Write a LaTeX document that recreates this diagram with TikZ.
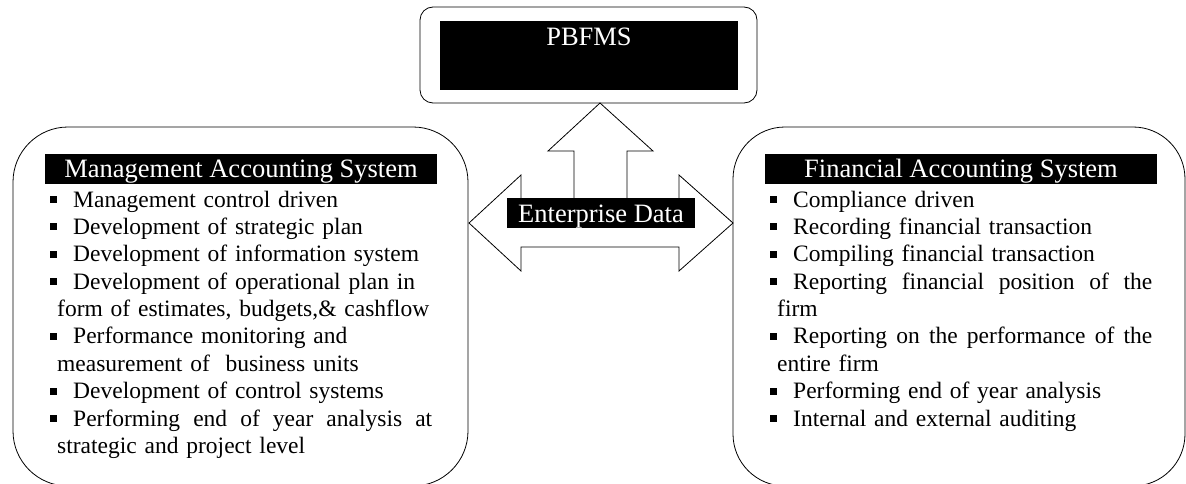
\documentclass[tikz,border=0pt]{standalone}
\usepackage{fontspec}
\setmainfont{Liberation Serif}
\newcommand\bul{\hspace*{-7pt}\rule[4pt]{7pt}{7pt}\hspace{16pt}}
\newcommand\jline[1]{\makebox[375pt][s]{\spaceskip=0pt\relax #1}}
\newcommand\listfont{\fontsize{23.5}{27.4}\selectfont\hyphenpenalty=10000 }
\newcommand\headfont{\fontsize{26.5}{30}\selectfont}
\tikzset{
  frame/.style={draw, line width=0.8pt},
  blackhead/.style={fill=black, text=white, inner sep=0pt, font=\headfont},
  itemlist/.style={anchor=base west, text width=375pt, inner sep=0pt, align=left, font=\listfont},
}
\begin{document}
\begin{tikzpicture}[x=1pt,y=-1pt]
\useasboundingbox (0,0) rectangle (1186,484);
\clip (0,0) rectangle (1186,484);
% top box
\node[frame, rounded corners=13pt, minimum width=337pt, minimum height=96pt, inner sep=0pt] (topframe) at (588.5,55) {};
\node[blackhead, anchor=base, minimum width=298pt, text height=25pt, text depth=44pt] (pbfms) at (589,46) {PBFMS};
% side frames
\draw[frame, rounded corners=55pt] (13,127) rectangle (468,486);
\draw[frame, rounded corners=52pt] (733,127) rectangle (1185,486);
% block arrow
\draw[line width=0.8pt, fill=white] (469,223) -- (521,175) -- (521,199) -- (574,199) -- (574,151) -- (548,151)
  -- (600,103) -- (653,151) -- (627,151) -- (627,199) -- (679,199) -- (679,175) -- (733,223)
  -- (679,271) -- (679,247) -- (521,247) -- (521,271) -- cycle;
\node[blackhead, anchor=base, minimum width=188pt, text height=24pt, text depth=6pt] (ed) at (601,222) {Enterprise Data};
% headers
\node[blackhead, anchor=base, minimum width=392pt, text height=23pt, text depth=7pt] (mas) at (241,177) {Management Accounting System};
\node[blackhead, anchor=base, minimum width=392pt, text height=23pt, text depth=7pt] (fas) at (961,177) {Financial Accounting System};
% lists
\node[itemlist] (maslist) at (57,207) {%
\bul Management control driven\\
\bul Development of strategic plan\\
\bul Development of information system\\
\bul Development of operational plan in\\
form of estimates, budgets,\& cashflow\\
\bul Performance monitoring and\\
measurement of\ \ business units\\
\bul Development of control systems\\
\jline{\bul Performing end of year analysis at}\\
strategic and project level};
\node[itemlist] (faslist) at (777,207) {%
\bul Compliance driven\\
\bul Recording financial transaction\\
\bul Compiling financial transaction\\
\jline{\bul Reporting financial position of the}\\
firm\\
\jline{\bul Reporting on the performance of the}\\
entire firm\\
\bul Performing end of year analysis\\
\bul Internal and external auditing};
\end{tikzpicture}
\end{document}
